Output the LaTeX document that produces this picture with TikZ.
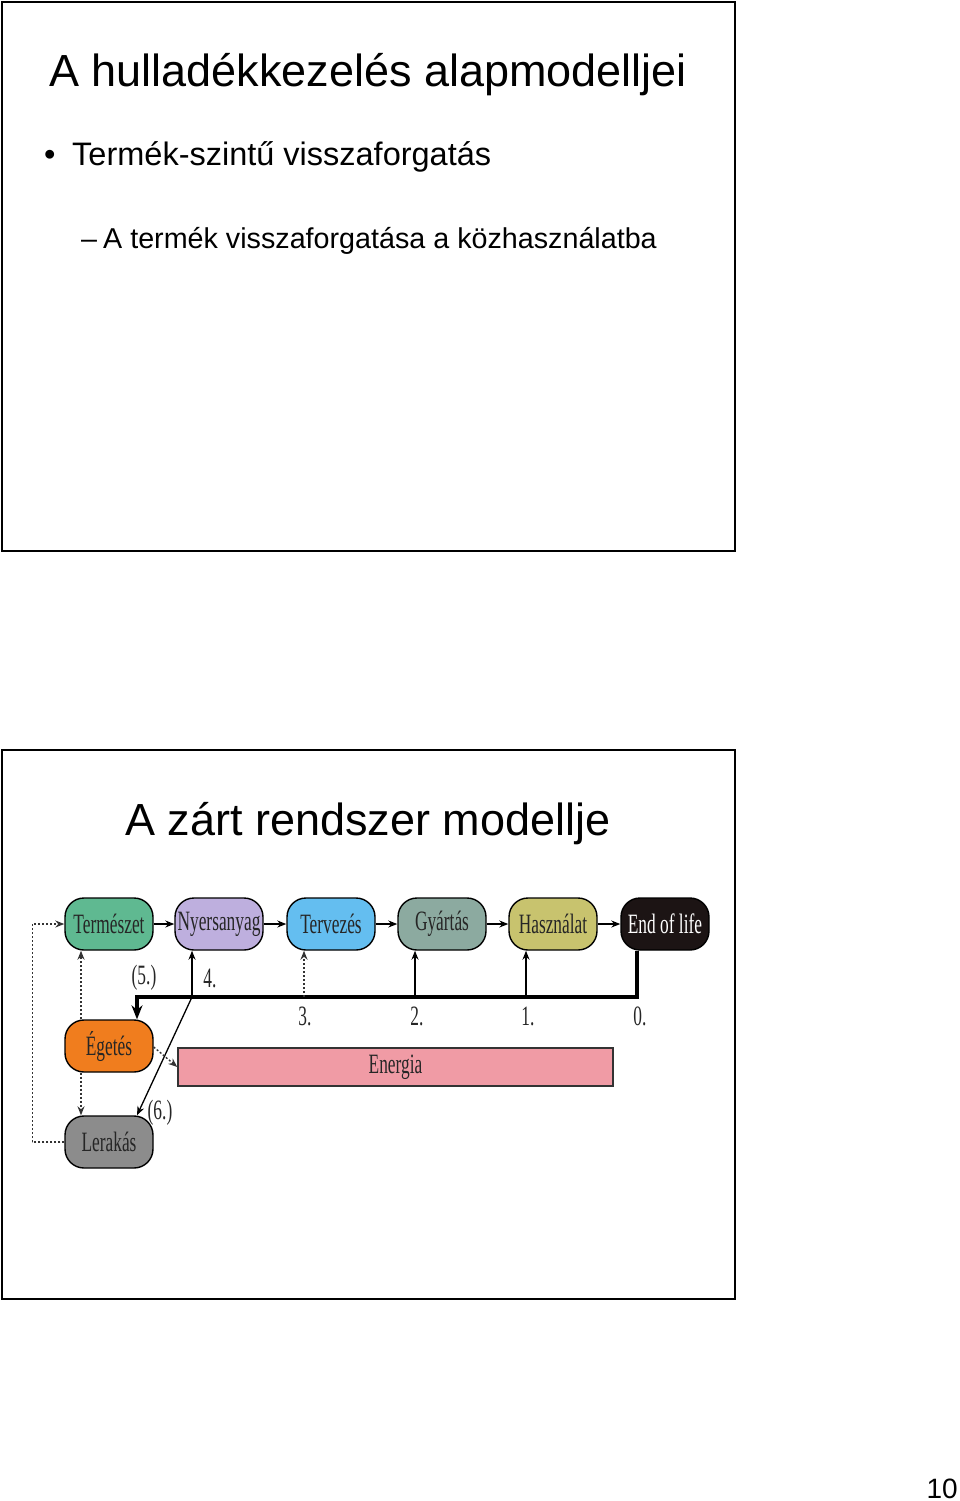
\documentclass[tikz,border=0pt]{standalone}
\usepackage{fontspec}
\setmainfont{Liberation Sans}
\newfontfamily\diagfont[FakeStretch=0.62]{Liberation Serif}
\usepackage{xcolor}
\usetikzlibrary{arrows.meta,calc}

\definecolor{naturcol}{RGB}{95,185,145}
\definecolor{nyerscol}{RGB}{190,175,222}
\definecolor{tervcol}{RGB}{100,190,240}
\definecolor{gyartcol}{RGB}{140,170,160}
\definecolor{haszcol}{RGB}{200,195,110}
\definecolor{eolcol}{RGB}{28,20,20}
\definecolor{egetcol}{RGB}{240,125,30}
\definecolor{lerakcol}{RGB}{140,140,140}
\definecolor{energiacol}{RGB}{240,155,165}

\begin{document}
\begin{tikzpicture}[x=1pt,y=-1pt,
  phase/.style={draw=black, line width=1.4pt, rounded corners=19pt,
    minimum width=88pt, minimum height=52pt, inner sep=0pt,
    font=\diagfont\fontsize{28}{30}\selectfont, text=black!85},
  lbl/.style={font=\diagfont\fontsize{28}{30}\selectfont, text=black!85},
  arr/.style={line width=1.3pt, -{Stealth[length=9pt,width=7pt]}},
  dotarr/.style={line width=1.4pt, black!80, dash pattern=on 2pt off 2pt,
    -{Stealth[length=9pt,width=7pt]}},
  bus/.style={line width=3.2pt}]
  \useasboundingbox (0,0) rectangle (960,1501);
  % slide frames
  \draw[line width=2pt] (2,2) rectangle (735,551);
  \draw[line width=2pt] (2,750) rectangle (735,1299);
  % upper slide text
  \node[anchor=base west, font=\fontsize{45}{50}\selectfont, inner sep=0pt] (title) at (49,87) {A hulladékkezelés alapmodelljei};
  \node[anchor=base west, font=\fontsize{32.5}{36}\selectfont, inner sep=0pt] (dot1) at (44,165) {•};
  \node[anchor=base west, font=\fontsize{32.5}{36}\selectfont, inner sep=0pt] (item1) at (72,165) {Termék-szintű visszaforgatás};
  \node[anchor=base west, font=\fontsize{28.7}{34}\selectfont, inner sep=0pt] (dash1) at (81,248) {–};
  \node[anchor=base west, font=\fontsize{28.7}{34}\selectfont, inner sep=0pt] (item2) at (103,248) {A termék visszaforgatása a közhasználatba};
  % lower slide
  \node[anchor=base west, font=\fontsize{45}{50}\selectfont, inner sep=0pt] (title2) at (125,835) {A zárt rendszer modellje};
  \node[anchor=base east, font=\fontsize{28}{32}\selectfont, inner sep=0pt] (pagenum) at (958,1498) {10};
  % phases
  \node[phase, fill=naturcol] (natur) at (109,924) {Természet};
  \node[phase, fill=nyerscol] (nyers) at (219,924) {Nyersanyag};
  \node[phase, fill=tervcol] (terv) at (331,924) {Tervezés};
  \node[phase, fill=gyartcol] (gyart) at (442,924) {Gyártás};
  \node[phase, fill=haszcol] (hasz) at (553,924) {Használat};
  \node[phase, fill=eolcol, text=white] (eol) at (665,924) {End of life};
  \node[phase, fill=egetcol] (eget) at (109,1046) {Égetés};
  \node[phase, fill=lerakcol] (lerak) at (109,1142) {Lerakás};
  \node[draw=black!80, line width=1.4pt, fill=energiacol, minimum width=435pt,
    minimum height=38pt, inner sep=0pt, lbl] (energia) at (395.5,1067) {Energia};
  % main chain
  \draw[arr] (natur) -- (nyers);
  \draw[arr] (nyers) -- (terv);
  \draw[arr] (terv) -- (gyart);
  \draw[arr] (gyart) -- (hasz);
  \draw[arr] (hasz) -- (eol);
  % return bus
  \coordinate (busL) at (137,997);
  \coordinate (busR) at ([xshift=-28pt]eol.south |- busL);
  \coordinate (nyfoot) at ([xshift=-27pt]nyers.south |- busL);
  \draw[bus, -{Stealth[length=14pt,width=11pt]}] ([xshift=-28pt]eol.south) -- (busR) -- (busL) -- (busL |- eget.north);
  \draw[arr] ([xshift=-27pt]hasz.south |- busL) -- ([xshift=-27pt]hasz.south);
  \draw[arr] ([xshift=-27pt]gyart.south |- busL) -- ([xshift=-27pt]gyart.south);
  \draw[dotarr] ([xshift=-27pt]terv.south |- busL) -- ([xshift=-27pt]terv.south);
  \draw[arr] (nyfoot) -- ([xshift=-27pt]nyers.south);
  \draw[arr] (nyfoot) -- ([xshift=28pt]lerak.north);
  % incineration and landfill
  \draw[dotarr] ([xshift=-28pt]eget.north) -- ([xshift=-28pt]natur.south);
  \draw[dotarr] ([xshift=-28pt]eget.south) -- ([xshift=-28pt]lerak.north);
  \draw[dotarr] ([yshift=-1pt]eget.east) -- (energia.west);
  \draw[dotarr] (lerak.west) -- ++(-32,0) |- (natur.west);
  % level labels
  \node[lbl] (l5) at (144,978) {(5.)};
  \node[lbl] (l4) at (210,978) {4.};
  \node[lbl] (l3) at (305,1016) {3.};
  \node[lbl] (l2) at (417,1016) {2.};
  \node[lbl] (l1) at (528,1016) {1.};
  \node[lbl] (l0) at (640,1016) {0.};
  \node[lbl] (l6) at (160,1113) {(6.)};
\end{tikzpicture}
\end{document}
